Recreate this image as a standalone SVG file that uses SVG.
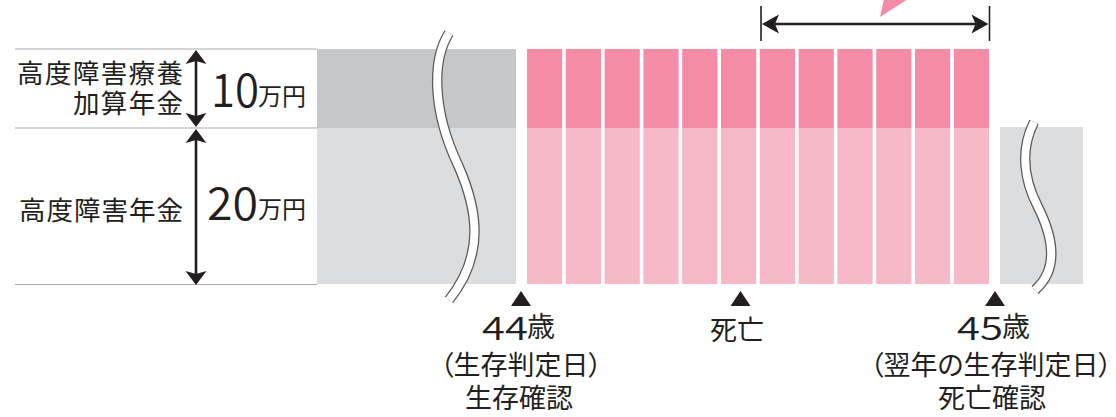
<svg xmlns="http://www.w3.org/2000/svg" width="1116" height="417" viewBox="0 0 1116 417">
<style>
.t{font-family:"Noto Sans CJK JP","Noto Sans",sans-serif;fill:#231f20}
.num{font-weight:350}
.p{font-feature-settings:"palt"}
.gd{fill:#c6c7c9}.gl{fill:#dcdddf}
.pd{fill:#f48ca6}.pl{fill:#f7b9c7}
.rule{stroke:#a7a9ac;stroke-width:1.2;fill:none}
.ln{stroke:#231f20;fill:none}
.hd{fill:#231f20}
.wo{stroke:#58595b;stroke-width:10.5;fill:none}
.wi{stroke:#ffffff;stroke-width:8;fill:none}
</style>
<defs>
<g id="col">
<rect class="pd" x="0" y="49" width="35.2" height="79"/>
<rect class="pl" x="0" y="128" width="35.2" height="156"/>
</g>
</defs>

<g id="table">
<line class="rule" x1="15" y1="49" x2="317" y2="49"/>
<line class="rule" x1="15" y1="128" x2="317" y2="128"/>
<line class="rule" x1="15" y1="284.5" x2="317" y2="284.5"/>
<text class="t" x="183" y="83" font-size="26.5" text-anchor="end" textLength="166" lengthAdjust="spacing">高度障害療養</text>
<text class="t" x="183" y="113" font-size="26.5" text-anchor="end" textLength="110" lengthAdjust="spacing">加算年金</text>
<text class="t" x="183" y="220" font-size="26.5" text-anchor="end" textLength="164" lengthAdjust="spacing">高度障害年金</text>
<text class="t num" x="211" y="107" font-size="47" textLength="48" lengthAdjust="spacingAndGlyphs">10</text>
<text class="t" x="258" y="105" font-size="24">万円</text>
<text class="t num" x="207" y="220" font-size="45" textLength="51" lengthAdjust="spacingAndGlyphs">20</text>
<text class="t" x="258" y="218" font-size="24">万円</text>
</g>

<g id="left-block">
<rect class="gd" x="317" y="49" width="199" height="79"/>
<rect class="gl" x="317" y="128" width="199" height="156"/>
</g>

<g id="pink-columns">
<use href="#col" x="527"/>
<use href="#col" x="565.8"/>
<use href="#col" x="604.6"/>
<use href="#col" x="643.4"/>
<use href="#col" x="682.2"/>
<use href="#col" x="721"/>
<use href="#col" x="759.8"/>
<use href="#col" x="798.6"/>
<use href="#col" x="837.4"/>
<use href="#col" x="876.2"/>
<use href="#col" x="915"/>
<use href="#col" x="953.8"/>
</g>

<g id="right-block">
<rect class="gl" x="1000" y="127" width="83" height="157"/>
</g>

<g id="breaks">
<path class="wo" d="M449 33 C432 60 432 110 458 165 C478 210 485 255 449 300"/>
<path class="wi" d="M449 33 C432 60 432 110 458 165 C478 210 485 255 449 300"/>
<path class="wo" d="M1034 122 C1020 150 1024 180 1038 207 C1052 235 1060 268 1035 290"/>
<path class="wi" d="M1034 122 C1020 150 1024 180 1038 207 C1052 235 1060 268 1035 290"/>
</g>

<g id="pink-pointer">
<polygon fill="#f48ca6" points="880,17 884,-1 908,-1"/>
</g>

<g id="connectors">
<line class="ln" stroke-width="2.6" x1="196" y1="58" x2="196" y2="120"/>
<path class="hd" d="M196 50 L206.5 64 L196 61 L185.5 64 Z"/>
<path class="hd" d="M196 127 L206.5 113 L196 116 L185.5 113 Z"/>
<line class="ln" stroke-width="2.6" x1="196" y1="136" x2="196" y2="277"/>
<path class="hd" d="M196 129 L206.5 143 L196 140 L185.5 143 Z"/>
<path class="hd" d="M196 285 L206.5 271 L196 274 L185.5 271 Z"/>
<line class="ln" stroke-width="1.6" x1="761" y1="6" x2="761" y2="41"/>
<line class="ln" stroke-width="1.6" x1="989.5" y1="6" x2="989.5" y2="41"/>
<line class="ln" stroke-width="2.6" x1="770" y1="24" x2="980" y2="24"/>
<path class="hd" d="M762 24 L779 14.5 L775 24 L779 33.5 Z"/>
<path class="hd" d="M988.5 24 L971.5 14.5 L975.5 24 L971.5 33.5 Z"/>
</g>

<g id="marker-44">
<polygon class="hd" points="521,291 531,306 511,306"/>
<text class="t num" x="482" y="340" font-size="32" textLength="46" lengthAdjust="spacingAndGlyphs">44</text>
<text class="t" x="527" y="337" font-size="28">歳</text>
<text class="t p" x="521" y="375" font-size="27" text-anchor="middle">（生存判定日）</text>
<text class="t" x="519" y="408" font-size="27" text-anchor="middle">生存確認</text>
</g>

<g id="marker-death">
<polygon class="hd" points="740.5,291 750.5,306 730.5,306"/>
<text class="t" x="737" y="340" font-size="27" text-anchor="middle">死亡</text>
</g>

<g id="marker-45">
<polygon class="hd" points="995,291 1005,306 985,306"/>
<text class="t num" x="957" y="340" font-size="32" textLength="46" lengthAdjust="spacingAndGlyphs">45</text>
<text class="t" x="1002" y="337" font-size="28">歳</text>
<text class="t p" x="991" y="375" font-size="27" text-anchor="middle">（翌年の生存判定日）</text>
<text class="t" x="992" y="408" font-size="27" text-anchor="middle">死亡確認</text>
</g>
</svg>
